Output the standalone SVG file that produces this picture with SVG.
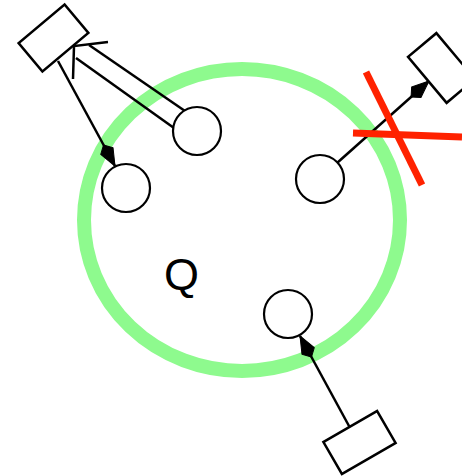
<svg xmlns="http://www.w3.org/2000/svg" width="462" height="476" viewBox="0 0 462 476">
<style>
.box{fill:#fff;stroke:#000;stroke-width:2.5}
.st{fill:#fff;stroke:#000;stroke-width:2.2}
.ln{fill:none;stroke:#000;stroke-width:2.5}
.x{stroke:#ff2200;stroke-width:7;fill:none}
</style>
<defs>
<marker id="fa" markerUnits="userSpaceOnUse" markerWidth="30" markerHeight="18" viewBox="-28 -9 30 18" refX="0" refY="0" orient="auto" overflow="visible">
<path d="M0,0 L-17,-7 L-24,0 L-17,7 Z" fill="#000" stroke="#000" stroke-width="1" stroke-linejoin="round"/>
</marker>
</defs>
<g id="region">
<ellipse cx="242" cy="220" rx="158" ry="151" fill="none" stroke="#8efa8e" stroke-width="14"/>
</g>
<g id="connectors">
<line class="ln" x1="58" y1="61" x2="115" y2="166" marker-end="url(#fa)"/>
<line class="ln" x1="185" y1="111" x2="89" y2="45"/>
<line class="ln" x1="174" y1="128" x2="76" y2="58"/>
<polyline class="ln" points="108,42 74,46 73,79"/>
<line class="ln" x1="337" y1="163" x2="429" y2="81" marker-end="url(#fa)"/>
<line class="ln" x1="355" y1="437" x2="300" y2="336" marker-end="url(#fa)"/>
</g>
<g id="box-tl"><rect class="box" x="23.5" y="19.5" width="60" height="37" transform="rotate(-40 53.5 38)"/></g>
<g id="box-r"><rect class="box" x="411.5" y="49.5" width="60" height="37" transform="rotate(50 441.5 68)"/></g>
<g id="box-b"><rect class="box" x="328.5" y="424" width="62" height="37" transform="rotate(-30 359.5 442.5)"/></g>
<g id="state-1"><circle class="st" cx="126" cy="188" r="24"/></g>
<g id="state-2"><circle class="st" cx="197" cy="131" r="24"/></g>
<g id="state-3"><circle class="st" cx="320" cy="179" r="24"/></g>
<g id="state-4"><circle class="st" cx="288" cy="314" r="24"/></g>
<g id="cross">
<line class="x" x1="366" y1="72" x2="422" y2="185"/>
<line class="x" x1="353" y1="133" x2="462" y2="137"/>
</g>
<text x="181.5" y="290" font-family="Liberation Sans, Arial, sans-serif" font-size="45" text-anchor="middle">Q</text>
</svg>
